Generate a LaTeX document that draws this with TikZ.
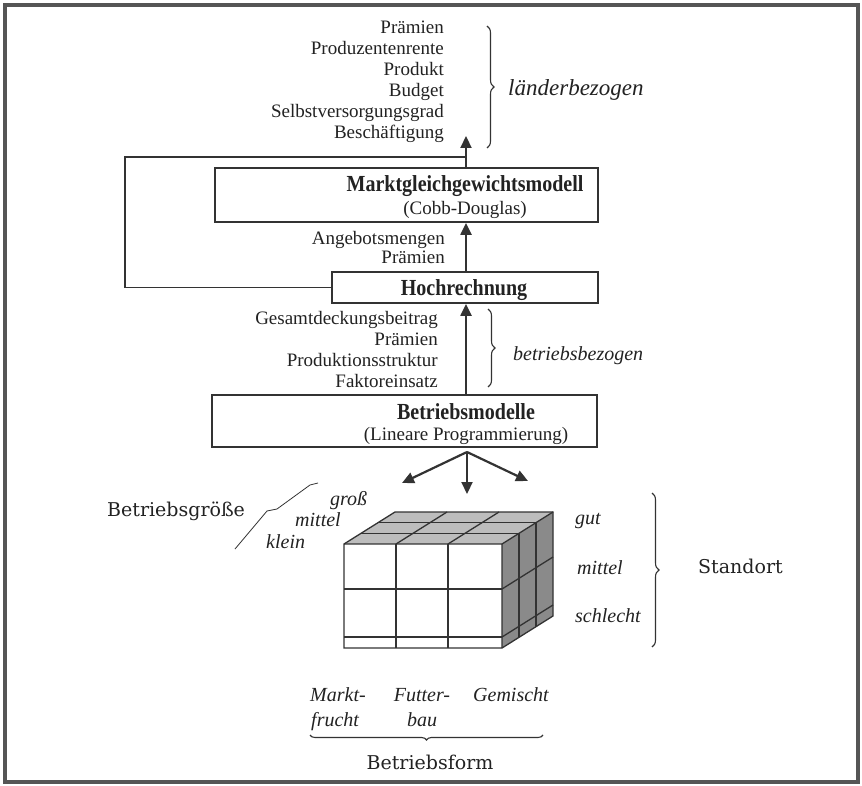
\documentclass[tikz,border=0pt]{standalone}
\usepackage{fontspec}
\setmainfont{Liberation Serif}
\newfontfamily\widefont{DejaVu Serif}
\newfontfamily\condfont[FakeStretch=0.87]{Liberation Serif}
\usetikzlibrary{arrows.meta,decorations.pathreplacing}
\definecolor{ink}{HTML}{222222}
\definecolor{lineC}{HTML}{333333}
\definecolor{frameC}{HTML}{555555}
\definecolor{topC}{HTML}{BDBDBD}
\definecolor{sideC}{HTML}{8A8A8A}
\begin{document}
\begin{tikzpicture}[x=1pt,y=-1pt,
  txt/.style={inner sep=0pt, text=ink, font=\fontsize{19}{21}\selectfont},
  btxt/.style={inner sep=0pt, text=ink, font=\condfont\fontsize{23}{25}\selectfont\bfseries},
  itxt/.style={inner sep=0pt, text=ink, font=\fontsize{20}{22}\selectfont\itshape},
  bigi/.style={inner sep=0pt, text=ink, font=\fontsize{23}{25}\selectfont\itshape},
  wtxt/.style={inner sep=0pt, text=ink, font=\widefont\fontsize{19}{21}\selectfont},
  box/.style={draw=lineC, line width=1.8pt, inner sep=0pt},
  arr/.style={draw=lineC, line width=2.2pt, -{Triangle[length=12pt,width=11pt]}},
  fback/.style={draw=lineC, line width=1.6pt},
  brc/.style={draw=lineC, line width=1.1pt, decorate, decoration={brace, amplitude=7pt}},
  cubeln/.style={draw=lineC, line width=1.3pt}
]
\useasboundingbox (0,0) rectangle (862,786);
\fill[white] (0,0) rectangle (862,786);
\draw[line width=3.5pt, frameC] (5,5) rectangle (858,782);

% top list
\node[txt, anchor=base east] (l1) at (444,34) {Prämien};
\node[txt, anchor=base east] (l2) at (444,55) {Produzentenrente};
\node[txt, anchor=base east] (l3) at (444,76) {Produkt};
\node[txt, anchor=base east] (l4) at (444,97) {Budget};
\node[txt, anchor=base east] (l5) at (444,118) {Selbstversorgungsgrad};
\node[txt, anchor=base east] (l6) at (444,139) {Beschäftigung};
\draw[brc] (487,26) -- (487,148);
\node[bigi, anchor=base west] (land) at (508,96) {länderbezogen};

% boxes
\coordinate (ax) at (466,0);
\node[box, minimum width=383pt, minimum height=54pt] (markt) at (406.5,195) {};
\node[btxt, anchor=base] (markt1) at (465,192) {Marktgleichgewichtsmodell};
\node[txt, anchor=base] (markt2) at (465,215) {(Cobb-Douglas)};

\node[box, minimum width=266pt, minimum height=31pt] (hoch) at (465,287.5) {};
\node[btxt, anchor=base] (hoch1) at (464,296) {Hochrechnung};

\node[box, minimum width=385pt, minimum height=52pt] (betr) at (404.5,421) {};
\node[btxt, anchor=base] (betr1) at (466,419) {Betriebsmodelle};
\node[txt, anchor=base] (betr2) at (466,440) {(Lineare Programmierung)};

% middle lists
\node[txt, anchor=base east] (a1) at (445,245) {Angebotsmengen};
\node[txt, anchor=base east] (a2) at (445,264) {Prämien};

\node[txt, anchor=base east] (g1) at (438,324) {Gesamtdeckungsbeitrag};
\node[txt, anchor=base east] (g2) at (438,345) {Prämien};
\node[txt, anchor=base east] (g3) at (438,366) {Produktionsstruktur};
\node[txt, anchor=base east] (g4) at (438,387) {Faktoreinsatz};
\draw[brc] (488,309) -- (488,387);
\node[itxt, anchor=base west] (betrbez) at (513,360) {betriebsbezogen};

% arrows
\coordinate (topend) at (466,136);
\draw[arr] (markt.north -| ax) -- (topend);
\draw[arr] (hoch.north -| ax) -- (markt.south -| ax);
\draw[arr] (betr.north -| ax) -- (hoch.south -| ax);

% feedback
\coordinate (fb1) at (125,157);
\coordinate (fb2) at (466,157);
\draw[fback] (hoch.west) -| (fb1) -- (fb2);

% three arrows
\coordinate (apex) at (467,452);
\coordinate (tl) at (402,483);
\coordinate (td) at (467,494);
\coordinate (tr) at (528,481);
\draw[arr] (apex) -- (tl);
\draw[arr] (apex) -- (td);
\draw[arr] (apex) -- (tr);

% cube
\fill[topC] (344,544) -- (502,544) -- (553,512) -- (395,512) -- cycle;
\fill[sideC] (502,544) -- (553,512) -- (553,616) -- (502,648) -- cycle;
\fill[white] (344,544) rectangle (502,648);
\draw[cubeln] (396,544) -- (396,648) (448,544) -- (448,648);
\draw[cubeln] (344,589) -- (502,589) (344,637) -- (502,637);
\draw[cubeln] (396,544) -- (447,512) (448,544) -- (499,512);
\draw[cubeln] (361,533.3) -- (519,533.3) (378,522.7) -- (536,522.7);
\draw[cubeln] (519,533.3) -- (519,637.3) (536,522.7) -- (536,626.7);
\draw[cubeln] (502,589) -- (553,557) (502,637) -- (553,605);
\draw[cubeln] (344,544) -- (344,648) -- (502,648) -- (553,616) -- (553,512) -- (395,512) -- cycle;
\draw[cubeln] (344,544) -- (502,544) -- (553,512) (502,544) -- (502,648);

% Betriebsgroesse
\node[wtxt, anchor=base west] (bg) at (107,516) {Betriebsgröße};
\draw[lineC, line width=0.8pt] (235,549) -- (267,511) -- (277,509) -- (310,485) -- (318,483);
\node[itxt, anchor=base west] (gross) at (330,505) {groß};
\node[itxt, anchor=base west] (mit1) at (295,526) {mittel};
\node[itxt, anchor=base west] (klein) at (266,548) {klein};

% Standort
\node[itxt, anchor=base west] (gut) at (575,524) {gut};
\node[itxt, anchor=base west] (mit2) at (577,574) {mittel};
\node[itxt, anchor=base west] (schl) at (575,622) {schlecht};
\draw[brc] (652,493) -- (652,647);
\node[wtxt, anchor=base west] (stand) at (698,573) {Standort};

% Betriebsform
\node[itxt, anchor=base west] (markt3) at (310,701) {Markt-};
\node[itxt, anchor=base west] (frucht) at (311,726) {frucht};
\node[itxt, anchor=base] (futter) at (422,701) {Futter-};
\node[itxt, anchor=base] (bau) at (422,726) {bau};
\node[itxt, anchor=base west] (gem) at (473,701) {Gemischt};
\draw[brc, decoration={brace, mirror, amplitude=5pt}] (310,735) -- (543,735);
\node[wtxt, anchor=base] (bform) at (430,769) {Betriebsform};
\end{tikzpicture}
\end{document}
